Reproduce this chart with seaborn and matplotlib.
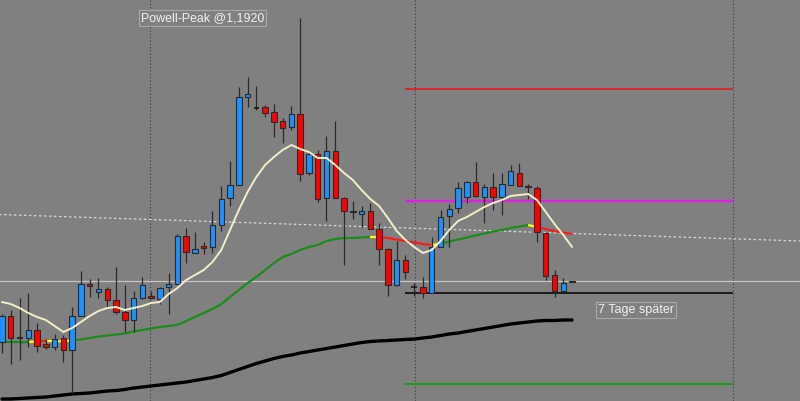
import matplotlib
matplotlib.use("Agg")
import matplotlib.pyplot as plt
import pandas as pd
import seaborn as sns

# EUR/USD candles, oldest first
opens = [1.1596, 1.1622, 1.1600, 1.1600, 1.1608, 1.1594, 1.1591, 1.1600, 1.1588, 1.1622,
         1.1654, 1.1646, 1.1649, 1.1638, 1.1626, 1.1618, 1.1640, 1.1642, 1.1639, 1.1651,
         1.1654, 1.1702, 1.1685, 1.1692, 1.1691, 1.1713, 1.1740, 1.1753, 1.1841, 1.1830,
         1.1831, 1.1826, 1.1817, 1.1811, 1.1824, 1.1765, 1.1784, 1.1740, 1.1787, 1.1740,
         1.1727, 1.1724, 1.1727, 1.1709, 1.1689, 1.1653, 1.1678, 1.1651, 1.1651, 1.1645,
         1.1691, 1.1722, 1.1730, 1.1741, 1.1756, 1.1741, 1.1751, 1.1741, 1.1753, 1.1765,
         1.1752, 1.1750, 1.1705, 1.1663, 1.1647, 1.1657]
highs = [1.1624, 1.1628, 1.1640, 1.1645, 1.1615, 1.1599, 1.1604, 1.1603, 1.1631, 1.1667,
         1.1659, 1.1660, 1.1651, 1.1671, 1.1653, 1.1647, 1.1661, 1.1647, 1.1651, 1.1665,
         1.1704, 1.1710, 1.1706, 1.1696, 1.1727, 1.1752, 1.1777, 1.1851, 1.1861, 1.1852,
         1.1833, 1.1834, 1.1820, 1.1832, 1.1920, 1.1787, 1.1788, 1.1802, 1.1817, 1.1741,
         1.1737, 1.1732, 1.1735, 1.1715, 1.1690, 1.1697, 1.1683, 1.1655, 1.1661, 1.1701,
         1.1728, 1.1734, 1.1756, 1.1757, 1.1776, 1.1754, 1.1765, 1.1765, 1.1773, 1.1775,
         1.1754, 1.1752, 1.1706, 1.1668, 1.1660, 1.1657]
lows = [1.1585, 1.1574, 1.1578, 1.1591, 1.1586, 1.1589, 1.1588, 1.1576, 1.1545, 1.1622,
        1.1641, 1.1640, 1.1631, 1.1624, 1.1606, 1.1606, 1.1639, 1.1639, 1.1634, 1.1624,
        1.1654, 1.1675, 1.1685, 1.1684, 1.1685, 1.1707, 1.1732, 1.1753, 1.1831, 1.1828,
        1.1821, 1.1801, 1.1795, 1.1808, 1.1757, 1.1763, 1.1736, 1.1717, 1.1740, 1.1673,
        1.1719, 1.1711, 1.1709, 1.1673, 1.1642, 1.1652, 1.1659, 1.1642, 1.1640, 1.1645,
        1.1691, 1.1691, 1.1725, 1.1735, 1.1741, 1.1715, 1.1728, 1.1723, 1.1753, 1.1752,
        1.1739, 1.1696, 1.1658, 1.1641, 1.1647, 1.1656]
closes = [1.1622, 1.1600, 1.1601, 1.1608, 1.1592, 1.1591, 1.1599, 1.1588, 1.1622, 1.1654,
          1.1652, 1.1649, 1.1638, 1.1626, 1.1618, 1.1640, 1.1653, 1.1640, 1.1650, 1.1654,
          1.1702, 1.1686, 1.1689, 1.1690, 1.1713, 1.1739, 1.1753, 1.1841, 1.1844, 1.1830,
          1.1825, 1.1816, 1.1810, 1.1824, 1.1764, 1.1784, 1.1739, 1.1787, 1.1740, 1.1727,
          1.1726, 1.1727, 1.1709, 1.1689, 1.1653, 1.1678, 1.1666, 1.1651, 1.1645, 1.1691,
          1.1721, 1.1729, 1.1750, 1.1756, 1.1742, 1.1751, 1.1741, 1.1754, 1.1767, 1.1752,
          1.1751, 1.1706, 1.1662, 1.1647, 1.1655, 1.1656]

# moving averages as drawn
ma_fast = [1.1636, 1.1634, 1.1630, 1.1625, 1.1621, 1.1618, 1.1612, 1.1606, 1.1610, 1.1616,
           1.1622, 1.1627, 1.1630, 1.1631, 1.1628, 1.1630, 1.1632, 1.1635, 1.1636, 1.1644,
           1.1650, 1.1658, 1.1663, 1.1668, 1.1676, 1.1688, 1.1708, 1.1728, 1.1746, 1.1761,
           1.1773, 1.1781, 1.1788, 1.1793, 1.1789, 1.1786, 1.1780, 1.1780, 1.1773, 1.1765,
           1.1758, 1.1748, 1.1739, 1.1732, 1.1720, 1.1707, 1.1698, 1.1691, 1.1685, 1.1688,
           1.1697, 1.1708, 1.1717, 1.1721, 1.1726, 1.1731, 1.1735, 1.1738, 1.1742, 1.1743,
           1.1744, 1.1738, 1.1726, 1.1714, 1.1703, 1.1691]
ma_mid = [1.15955, 1.15955, 1.15955, 1.1596, 1.15965, 1.15965, 1.15965, 1.1597, 1.15975, 1.15985,
          1.1600, 1.16015, 1.16025, 1.16035, 1.16045, 1.16065, 1.1608, 1.16095, 1.1611, 1.1612,
          1.1613, 1.1617, 1.1621, 1.1625, 1.1629, 1.1634, 1.1641, 1.1648, 1.1655, 1.1661,
          1.1668, 1.1675, 1.1681, 1.1684, 1.1688, 1.1691, 1.1693, 1.1697, 1.1699, 1.1700,
          1.1700, 1.17005, 1.1701, 1.1701, 1.1700, 1.16985, 1.1697, 1.16955, 1.1694, 1.1693,
          1.1694, 1.16965, 1.16985, 1.17005, 1.17025, 1.17045, 1.17065, 1.1708, 1.1710, 1.17115,
          1.1713, 1.1711, 1.1709, 1.1707, 1.17055, 1.1704]
# colour of each mid-MA segment ending at candle 1..65 (g=up, r=down, y=turn)
ma_mid_state = "gggyryyy" + "gggggggggggggggggggggggggggggggggg" + "y" + "rrrrrr" + "y" + "gggggggggg" + "y" + "rrrr"
ma_slow = [1.1539, 1.1539, 1.15395, 1.1540, 1.15405, 1.1541, 1.1542, 1.1543, 1.1544, 1.15445,
           1.1545, 1.1546, 1.1547, 1.15475, 1.15485, 1.1550, 1.1551, 1.1552, 1.1553, 1.1554,
           1.1555, 1.1556, 1.15575, 1.1559, 1.15605, 1.15625, 1.15655, 1.15685, 1.15715, 1.15745,
           1.1577, 1.15795, 1.15815, 1.1583, 1.1585, 1.15865, 1.1588, 1.15895, 1.1591, 1.15925,
           1.1594, 1.15955, 1.15965, 1.1597, 1.15975, 1.1598, 1.15985, 1.1599, 1.1600, 1.1601,
           1.16025, 1.1604, 1.1605, 1.16065, 1.1608, 1.16095, 1.1611, 1.16125, 1.1614, 1.1615,
           1.1616, 1.1617, 1.16175, 1.16175, 1.1618, 1.1618]

# horizontal levels
level_red = 1.1849
level_magenta = 1.1737
level_black = 1.1645
level_green = 1.1554
bid = 1.1657
trend_x = [-1, 91]
trend_y = [1.17237, 1.16970]
separators = [16.88, 47.09, 83.35]
level_start, level_end = 45.95, 83.35

BG = "#808080"
sns.set_style("dark", {"axes.facecolor": BG, "figure.facecolor": BG})
plt.rcParams["font.family"] = ["Liberation Sans", "DejaVu Sans"]

df = pd.DataFrame({"open": opens, "high": highs, "low": lows, "close": closes,
                   "fast": ma_fast, "mid": ma_mid, "slow": ma_slow})
df["idx"] = range(len(df))

fig = plt.figure(figsize=(8, 4.01), dpi=100)
ax = fig.add_axes([0, 0, 1, 1])

# separators, trendline, bid line
for s in separators:
    ax.axvline(s, color="#3a3a3a", lw=0.8, ls=(0, (1, 2)), zorder=1)
ax.plot(trend_x, trend_y, color="#d8d8d8", lw=0.9, ls=(0, (2, 2)), zorder=1)
ax.axhline(bid, color="#c4c4c4", lw=0.9, zorder=1)

# level lines
ax.hlines(level_red, level_start, level_end, color="#f01010", lw=1.1, zorder=1)
ax.hlines(level_magenta, level_start, level_end, color="#e020e0", lw=1.7, zorder=1)
ax.hlines(level_black, level_start, level_end, color="#000000", lw=1.1, zorder=1)
ax.hlines(level_green, level_start, level_end, color="#1f9a1f", lw=1.5, zorder=1)

# slow MA
sns.lineplot(data=df, x="idx", y="slow", ax=ax, color="black", lw=2.4, zorder=2)

# mid MA, coloured by state
seg_cols = {"g": "#1a8c1a", "r": "#ff1a1a", "y": "#ffff00"}
for i, st in enumerate(ma_mid_state, start=1):
    ax.plot([i - 1, i], [ma_mid[i - 1], ma_mid[i]], color=seg_cols[st], lw=1.6,
            solid_capstyle="butt", zorder=2)

# candles
ax.vlines(df["idx"], df["low"], df["high"], color="#2a2a2a", lw=0.9, zorder=3)
for i, r in df.iterrows():
    o, c = r["open"], r["close"]
    if o == c:
        ax.hlines(o, i - 0.31, i + 0.31, color="#111111", lw=1.1, zorder=4)
        continue
    col = "#1e90ff" if c > o else "#ff0000"
    ax.bar(i, abs(c - o), bottom=min(o, c), width=0.62, color=col,
           edgecolor="#2a2a2a", linewidth=0.8, zorder=4)

# fast MA
sns.lineplot(data=df, x="idx", y="fast", ax=ax, color="#f3edc8", lw=1.4, zorder=5)

# labels
box = dict(boxstyle="square,pad=0.18", fc=BG, ec="#a8a8a8", lw=0.8)
ax.text(15.85, 1.1920, "Powell-Peak @1,1920", color="#f2f2f2", fontsize=8.9,
        va="center", ha="left", bbox=box, zorder=6)
ax.text(67.95, 1.1628, "7 Tage später", color="#f2f2f2", fontsize=9.0,
        va="center", ha="left", bbox=box, zorder=6)

ax.set_xlim(-0.228, 90.99)
ax.set_ylim(1.1537, 1.1938)
ax.set_axis_off()

fig.savefig("out.png", dpi=100, facecolor=BG)
